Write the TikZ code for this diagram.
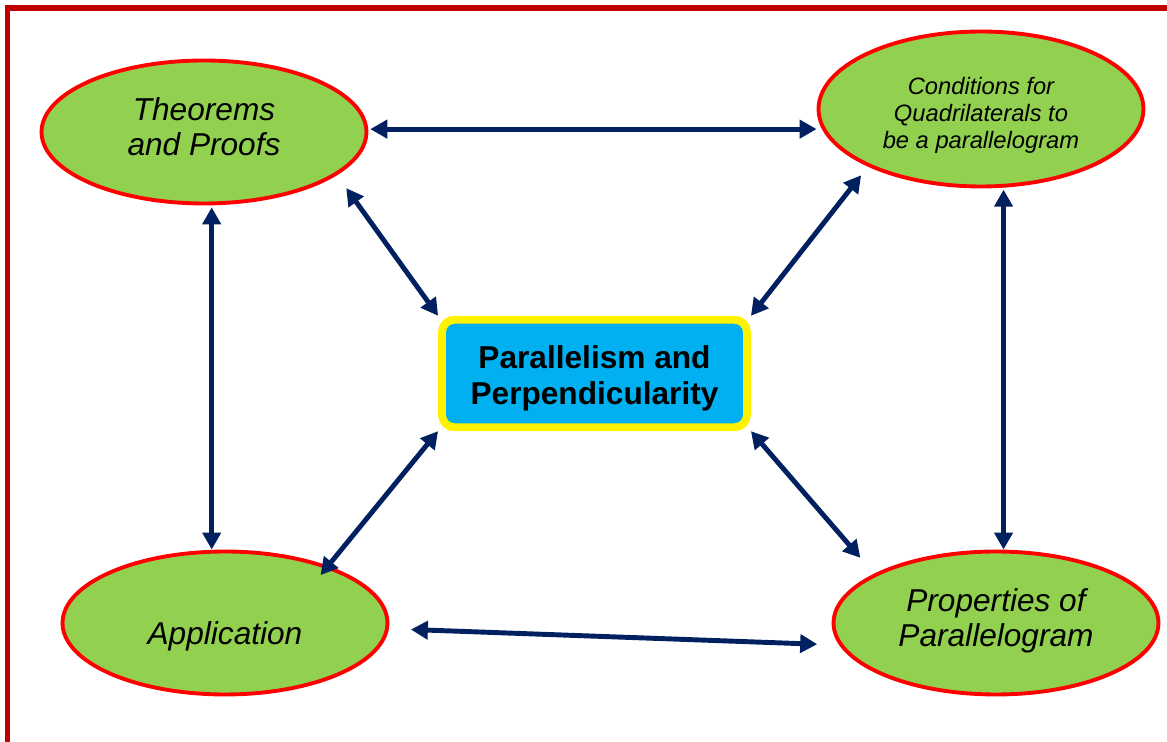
\documentclass[tikz,border=0pt]{standalone}
\usepackage{fontspec}
\setmainfont{Liberation Sans}
\usetikzlibrary{arrows.meta,shapes.geometric}
\definecolor{framered}{HTML}{C00000}
\definecolor{leafgreen}{HTML}{92D050}
\definecolor{hubblue}{HTML}{00B0F0}
\definecolor{linknavy}{HTML}{002060}
\newcommand{\liftlines}[2]{\raisebox{#1}[\height][\depth]{\begin{tabular}{@{}c@{}}#2\end{tabular}}}

\begin{document}
\begin{tikzpicture}[
  x=0.02cm, y=-0.02cm,
  topic/.style={ellipse, draw=red, line width=2.2pt, fill=leafgreen, minimum width=6.5cm, minimum height=2.86cm, inner sep=0pt, font=\itshape\fontsize{18}{20}\selectfont},
  hub/.style={draw=yellow, line width=4.5pt, fill=hubblue, rounded corners=7pt, minimum width=6.1cm, minimum height=2.15cm, font=\bfseries\fontsize{18}{20.5}\selectfont},
  link/.style={{Triangle[length=0.34cm,width=0.36cm]}-{Triangle[length=0.34cm,width=0.36cm]}, line width=2.8pt, draw=linknavy},
  frame/.style={draw=framered, line width=0.11cm}
]
\useasboundingbox (0,0) rectangle (1167,742);
\draw[frame] (7.5,760) -- (7.5,8) -- (1180,8);

\node[hub] (ctr) at (594.5,373.5) {\liftlines{-0.11cm}{Parallelism and\\Perpendicularity}};
\node[topic] (thm) at (204,132) {\liftlines{0.02cm}{Theorems\\and Proofs}};
\node[topic, minimum height=3.1cm, font=\itshape\fontsize{13.5}{15.5}\selectfont] (cond) at (981,109) {\liftlines{-0.14cm}{Conditions for\\Quadrilaterals to\\be a parallelogram}};
\node[topic] (app) at (225,623) {\liftlines{-0.28cm}{Application}};
\node[topic] (prop) at (996,623) {\liftlines{0.02cm}{Properties of\\Parallelogram}};

\draw[link, shorten <=0.04cm] (thm.1) -- (thm.1 -| cond.west);
\draw[link, shorten <=0.32cm] (thm.-18) -- (ctr.north west);
\draw[link, shorten <=0.22cm] (cond.-153) -- (ctr.north east);
\draw[link, shorten <=0.04cm] (thm.-84) -- (thm.-84 |- app.north);
\draw[link, shorten <=0.04cm] (cond.-74) -- (cond.-74 |- prop.north);
\draw[link, shorten <=-0.24cm] (app.29) -- (ctr.south west);
\draw[link, shorten <=0.42cm] (prop.158) -- (ctr.south east);
\draw[link, shorten <=0.44cm, shorten >=0.44cm] (app.-2) -- (prop.-172);
\end{tikzpicture}
\end{document}
